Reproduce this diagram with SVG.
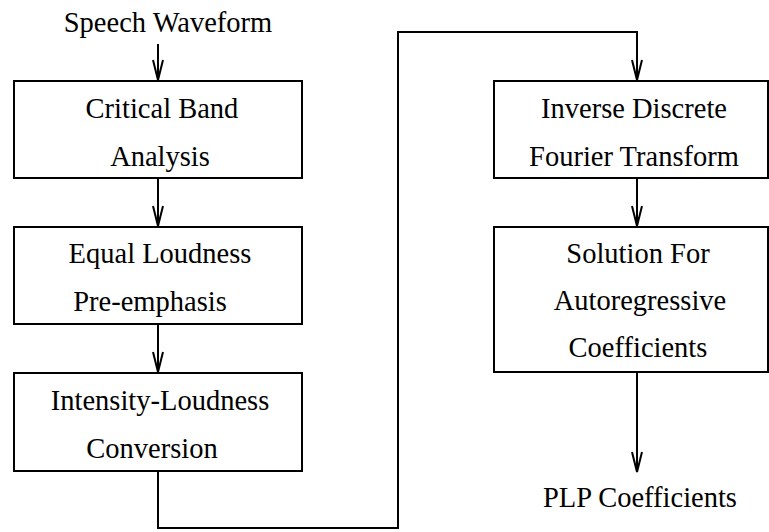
<svg xmlns="http://www.w3.org/2000/svg" width="769" height="532" viewBox="0 0 769 532">
  <style>
    .box { fill: #ffffff; stroke: #000000; stroke-width: 2; }
    .lbl { font-family: "Liberation Serif", "Times New Roman", serif; font-size: 28.5px; fill: #000000; text-anchor: middle; }
    .wire { fill: none; stroke: #000000; stroke-width: 2; }
  </style>
  <defs>
    <!-- long narrow open V arrowhead, drawn along +x so orient="auto" follows the wire -->
    <marker id="vhead" markerUnits="userSpaceOnUse" markerWidth="24" markerHeight="14" refX="21" refY="7" orient="auto" viewBox="0 0 24 14">
      <path d="M1,2 L21,7 L1,12" fill="none" stroke="#000000" stroke-width="2"/>
    </marker>
  </defs>
  <rect width="769" height="532" fill="#ffffff"/>

  <g id="connectors">
    <path class="wire" d="M158,44 L158,80" marker-end="url(#vhead)"/>
    <path class="wire" d="M158,178 L158,226" marker-end="url(#vhead)"/>
    <path class="wire" d="M158,324 L158,372" marker-end="url(#vhead)"/>
    <path class="wire" d="M158,471 L158,528 L398,528 L398,32 L637,32 L637,80" marker-end="url(#vhead)"/>
    <path class="wire" d="M637,178 L637,226" marker-end="url(#vhead)"/>
    <path class="wire" d="M637,372 L637,472" marker-end="url(#vhead)"/>
  </g>

  <g id="input">
    <text class="lbl" x="168" y="32">Speech Waveform</text>
  </g>

  <g id="critical-band">
    <rect class="box" x="14" y="81" width="288" height="97"/>
    <text class="lbl" x="162" y="118">Critical Band</text>
    <text class="lbl" x="160" y="166">Analysis</text>
  </g>

  <g id="equal-loudness">
    <rect class="box" x="14" y="227" width="288" height="97"/>
    <text class="lbl" x="160" y="263">Equal Loudness</text>
    <text class="lbl" x="150" y="311">Pre-emphasis</text>
  </g>

  <g id="intensity-loudness">
    <rect class="box" x="14" y="373" width="288" height="98"/>
    <text class="lbl" x="160" y="410">Intensity-Loudness</text>
    <text class="lbl" x="152" y="458">Conversion</text>
  </g>

  <g id="inverse-dft">
    <rect class="box" x="494" y="81" width="274" height="97"/>
    <text class="lbl" x="634" y="118">Inverse Discrete</text>
    <text class="lbl" x="634" y="166">Fourier Transform</text>
  </g>

  <g id="autoregressive">
    <rect class="box" x="494" y="227" width="274" height="145"/>
    <text class="lbl" x="638" y="263">Solution For</text>
    <text class="lbl" x="640" y="310">Autoregressive</text>
    <text class="lbl" x="638" y="357">Coefficients</text>
  </g>

  <g id="output">
    <text class="lbl" x="640" y="507">PLP Coefficients</text>
  </g>
</svg>
